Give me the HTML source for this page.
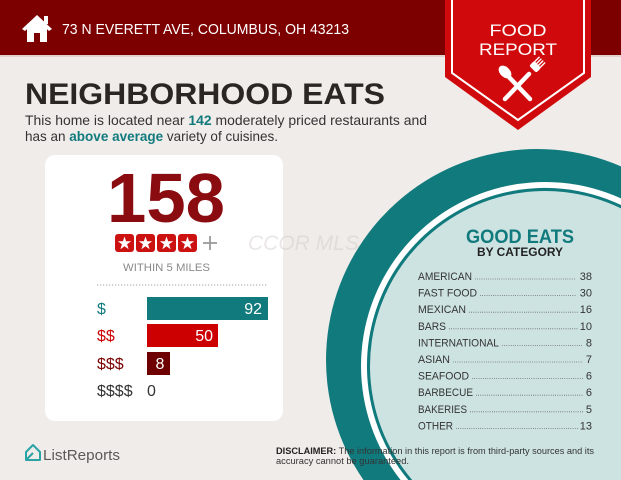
<!DOCTYPE html>
<html><head><meta charset="utf-8"><style>
html,body{margin:0;padding:0;background:#f0ece9;width:621px;height:480px;overflow:hidden;}
svg{display:block;font-family:"Liberation Sans",Arial,sans-serif;}
</style></head><body>
<svg width="621" height="480" viewBox="0 0 621 480" xmlns="http://www.w3.org/2000/svg">
<rect width="621" height="480" fill="#f0ece9"/>
<!-- header -->
<rect width="621" height="55" fill="#7d0000"/>
<rect y="55" width="621" height="2" fill="#e2d2ce"/>
<!-- house icon -->
<g fill="#fff">
<polygon points="22,29 37,15 52,29 49,31 37,20 25,31"/>
<rect x="44" y="16" width="4" height="8"/>
<path d="M27,28 L37,19 L47,28 L47,42 L40,42 L40,33 L34,33 L34,42 L27,42 Z"/>
</g>
<text x="62" y="34" font-size="15" fill="#fff" textLength="287" lengthAdjust="spacingAndGlyphs">73 N EVERETT AVE, COLUMBUS, OH 43213</text>

<!-- card -->
<rect x="45" y="155" width="238" height="266" rx="10" fill="#fff"/>

<!-- watermark -->
<text x="248" y="250" font-size="21" font-style="italic" fill="#cfcac6" opacity="0.45">CCOR MLS</text>

<!-- circle (clipped to frame) -->
<path d="M363.5,480 A211,211 0 0 1 621,166.4 L621,480 Z" fill="#117a7d"/>
<path d="M400.6,480 A184,184 0 0 1 621,198.4 L621,480 Z" fill="#ffffff"/>
<path d="M408.3,480 A178,178 0 0 1 621,205 L621,480 Z" fill="#117a7d"/>
<path d="M412.2,480 A175,175 0 0 1 621,208.4 L621,480 Z" fill="#cde3e2"/>

<!-- banner -->
<polygon points="445,0 591,0 591,77 518,130 445,77" fill="#d00a0c"/>
<polyline points="452,0 452,73 518,120 584,73 584,0" fill="none" stroke="#fff" stroke-width="2"/>
<text x="518" y="36" font-size="17" fill="#fff" text-anchor="middle" textLength="57" lengthAdjust="spacingAndGlyphs">FOOD</text>
<text x="518" y="55" font-size="17" fill="#fff" text-anchor="middle" textLength="78" lengthAdjust="spacingAndGlyphs">REPORT</text>
<!-- spoon & fork -->
<g fill="#fff" stroke="#fff" stroke-linecap="round">
<ellipse cx="505" cy="72" rx="5" ry="7.5" transform="rotate(-45 505 72)" stroke="none"/>
<line x1="508" y1="76" x2="530" y2="99" stroke-width="4.5"/>
<line x1="529" y1="74" x2="505" y2="99" stroke-width="4.5"/>
<g transform="translate(532,70) rotate(45)">
<rect x="-5" y="-8" width="10" height="7" rx="2" stroke="none"/>
<line x1="-4" y1="-8" x2="-4" y2="-14" stroke-width="1.4"/>
<line x1="-1.3" y1="-8" x2="-1.3" y2="-14" stroke-width="1.4"/>
<line x1="1.3" y1="-8" x2="1.3" y2="-14" stroke-width="1.4"/>
<line x1="4" y1="-8" x2="4" y2="-14" stroke-width="1.4"/>
</g>
</g>

<!-- headline -->
<text x="25" y="104" font-size="30" font-weight="bold" fill="#2b2523" textLength="360" lengthAdjust="spacingAndGlyphs">NEIGHBORHOOD EATS</text>
<text x="25" y="125" font-size="14" fill="#333" textLength="402" lengthAdjust="spacingAndGlyphs">This home is located near <tspan font-weight="bold" fill="#117a7d">142</tspan> moderately priced restaurants and</text>
<text x="25" y="141" font-size="14" fill="#333" textLength="253" lengthAdjust="spacingAndGlyphs">has an <tspan font-weight="bold" fill="#117a7d">above average</tspan> variety of cuisines.</text>

<!-- card content -->
<text x="107" y="222" font-size="70" font-weight="bold" fill="#8a0b10" textLength="118" lengthAdjust="spacingAndGlyphs">158</text>
<g>
<rect x="115" y="234" width="19" height="18" rx="3" fill="#cc1111"/>
<rect x="136" y="234" width="19" height="18" rx="3" fill="#cc1111"/>
<rect x="157" y="234" width="19" height="18" rx="3" fill="#cc1111"/>
<rect x="178" y="234" width="19" height="18" rx="3" fill="#cc1111"/>
<g fill="#fff">
<polygon transform="translate(124.5,243.5)" points="0,-7 1.6,-2.2 6.7,-2.2 2.6,0.8 4.1,5.7 0,2.7 -4.1,5.7 -2.6,0.8 -6.7,-2.2 -1.6,-2.2"/>
<polygon transform="translate(145.5,243.5)" points="0,-7 1.6,-2.2 6.7,-2.2 2.6,0.8 4.1,5.7 0,2.7 -4.1,5.7 -2.6,0.8 -6.7,-2.2 -1.6,-2.2"/>
<polygon transform="translate(166.5,243.5)" points="0,-7 1.6,-2.2 6.7,-2.2 2.6,0.8 4.1,5.7 0,2.7 -4.1,5.7 -2.6,0.8 -6.7,-2.2 -1.6,-2.2"/>
<polygon transform="translate(187.5,243.5)" points="0,-7 1.6,-2.2 6.7,-2.2 2.6,0.8 4.1,5.7 0,2.7 -4.1,5.7 -2.6,0.8 -6.7,-2.2 -1.6,-2.2"/>
</g>
<line x1="203" y1="243" x2="217" y2="243" stroke="#9a9a9a" stroke-width="1.8"/>
<line x1="210" y1="236" x2="210" y2="250" stroke="#9a9a9a" stroke-width="1.8"/>
</g>
<text x="123" y="271" font-size="11" fill="#8a8a8a" textLength="87" lengthAdjust="spacingAndGlyphs">WITHIN 5 MILES</text>
<line x1="97" y1="285" x2="268" y2="285" stroke="#a0a0a0" stroke-width="1" stroke-dasharray="1.2 1.8"/>

<rect x="147" y="297" width="121" height="23" fill="#117a7d"/>
<rect x="147" y="324" width="71" height="23" fill="#cc0000"/>
<rect x="147" y="352" width="23" height="23" fill="#6e0000"/>
<text x="97" y="314" font-size="16" fill="#117a7d">$</text>
<text x="97" y="341" font-size="16" fill="#cc0000">$$</text>
<text x="97" y="369" font-size="16" fill="#7a0000">$$$</text>
<text x="97" y="396" font-size="16" fill="#333">$$$$</text>
<text x="262" y="314" font-size="16" fill="#fff" text-anchor="end">92</text>
<text x="213" y="341" font-size="16" fill="#fff" text-anchor="end">50</text>
<text x="160" y="369" font-size="16" fill="#fff" text-anchor="middle">8</text>
<text x="147" y="396" font-size="16" fill="#333">0</text>

<!-- good eats -->
<text x="520" y="243" font-size="19" font-weight="bold" fill="#117a7d" text-anchor="middle" textLength="108" lengthAdjust="spacingAndGlyphs">GOOD EATS</text>
<text x="520" y="256" font-size="12" font-weight="bold" fill="#222" text-anchor="middle" textLength="86" lengthAdjust="spacingAndGlyphs">BY CATEGORY</text>
<g font-size="11" fill="#333">
<text x="418" y="280" textLength="54" lengthAdjust="spacingAndGlyphs">AMERICAN</text>
<text x="592" y="280" text-anchor="end">38</text>
<text x="418" y="296.6" textLength="59" lengthAdjust="spacingAndGlyphs">FAST FOOD</text>
<text x="592" y="296.6" text-anchor="end">30</text>
<text x="418" y="313.2" textLength="48" lengthAdjust="spacingAndGlyphs">MEXICAN</text>
<text x="592" y="313.2" text-anchor="end">16</text>
<text x="418" y="329.8" textLength="28" lengthAdjust="spacingAndGlyphs">BARS</text>
<text x="592" y="329.8" text-anchor="end">10</text>
<text x="418" y="346.4" textLength="81" lengthAdjust="spacingAndGlyphs">INTERNATIONAL</text>
<text x="592" y="346.4" text-anchor="end">8</text>
<text x="418" y="363" textLength="32" lengthAdjust="spacingAndGlyphs">ASIAN</text>
<text x="592" y="363" text-anchor="end">7</text>
<text x="418" y="379.6" textLength="51" lengthAdjust="spacingAndGlyphs">SEAFOOD</text>
<text x="592" y="379.6" text-anchor="end">6</text>
<text x="418" y="396.2" textLength="55" lengthAdjust="spacingAndGlyphs">BARBECUE</text>
<text x="592" y="396.2" text-anchor="end">6</text>
<text x="418" y="412.8" textLength="49" lengthAdjust="spacingAndGlyphs">BAKERIES</text>
<text x="592" y="412.8" text-anchor="end">5</text>
<text x="418" y="429.4" textLength="35" lengthAdjust="spacingAndGlyphs">OTHER</text>
<text x="592" y="429.4" text-anchor="end">13</text>
</g>
<g stroke="#555" stroke-width="0.8" stroke-dasharray="0.8 1.4">
<line x1="475" y1="279" x2="576" y2="279"/>
<line x1="480" y1="295.6" x2="576" y2="295.6"/>
<line x1="469" y1="312.2" x2="578" y2="312.2"/>
<line x1="449" y1="328.8" x2="578" y2="328.8"/>
<line x1="502" y1="345.4" x2="583" y2="345.4"/>
<line x1="453" y1="362" x2="583" y2="362"/>
<line x1="472" y1="378.6" x2="583" y2="378.6"/>
<line x1="476" y1="395.2" x2="583" y2="395.2"/>
<line x1="470" y1="411.8" x2="583" y2="411.8"/>
<line x1="456" y1="428.4" x2="578" y2="428.4"/>
</g>

<!-- footer -->
<path d="M26,452 L33,445 L40,452 L40,460 L33,460 L26,460 Z" fill="none" stroke="#2aa3a5" stroke-width="2" stroke-linejoin="round"/>
<path d="M26,460 L33,453" stroke="#2aa3a5" stroke-width="2" fill="none"/>
<text x="43" y="460" font-size="15" fill="#5a5a5a" textLength="77" lengthAdjust="spacingAndGlyphs">ListReports</text>
<text x="276" y="454" font-size="9" fill="#333" textLength="318" lengthAdjust="spacingAndGlyphs"><tspan font-weight="bold" fill="#222">DISCLAIMER:</tspan> The information in this report is from third-party sources and its</text>
<text x="276" y="464" font-size="9" fill="#333" textLength="133" lengthAdjust="spacingAndGlyphs">accuracy cannot be guaranteed.</text>
</svg>
</body></html>
